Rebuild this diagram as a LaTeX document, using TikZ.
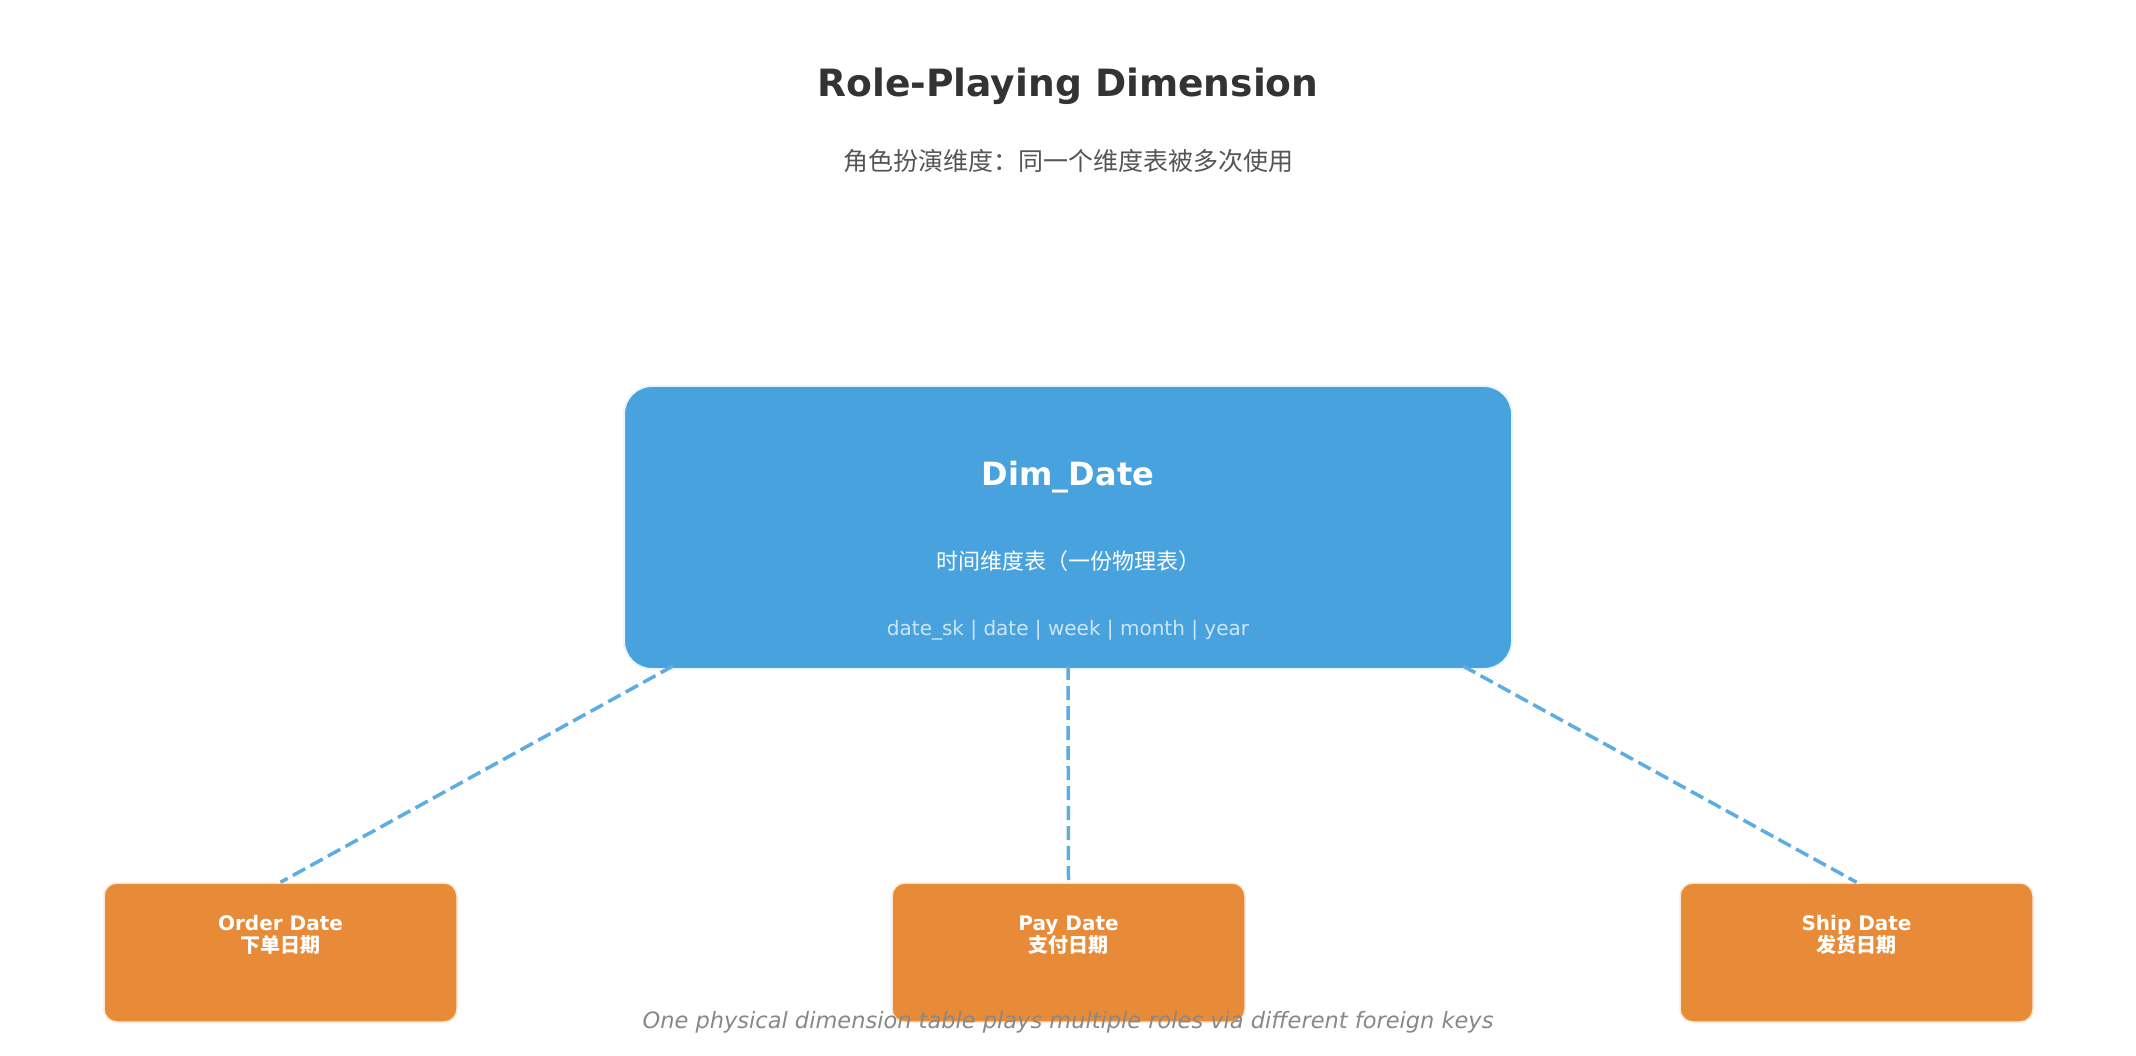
\documentclass[tikz,border=0pt]{standalone}
\usepackage{fontspec}
\setmainfont{DejaVu Sans}
\newfontfamily\cjk{Noto Sans CJK SC}
\usepackage{xcolor}
\definecolor{dimblue}{HTML}{48A2DE}
\definecolor{linkblue}{HTML}{5DADE2}
\definecolor{roleorange}{HTML}{E88B38}
\definecolor{titlegray}{HTML}{333333}
\definecolor{subgray}{HTML}{555555}
\definecolor{notegray}{HTML}{888888}
\definecolor{fieldblue}{HTML}{CDE6F7}

\begin{document}
\begin{tikzpicture}[x=1pt,y=-1pt,
	dimbox/.style={fill=dimblue,draw=dimblue!12,line width=2pt,rounded corners=28pt,minimum width=888pt,minimum height=283pt,inner sep=0pt},
	rolebox/.style={fill=roleorange,draw=roleorange!20,line width=1.5pt,rounded corners=13pt,minimum width=353pt,minimum height=139pt,inner sep=0pt},
	rolelabel/.style={text=white,font=\fontsize{20}{22}\selectfont\bfseries,align=center,inner sep=0pt},
	link/.style={linkblue,line width=3.5pt,dash pattern=on 14pt off 6pt}]
	\useasboundingbox (0,0) rectangle (2136,1056);
	%
	\node[text=titlegray,font=\fontsize{37.6}{44}\selectfont\bfseries] (title) at (1068,86.5) {Role-Playing Dimension};
	\node[text=subgray,font=\fontsize{25}{29}\selectfont\cjk] (subtitle) at (1068,161) {角色扮演维度：同一个维度表被多次使用};
	%
	\node[dimbox] (dim) at (1068,527.5) {};
	\node[text=white,font=\fontsize{32}{38}\selectfont\bfseries] (dimname) at (1068,477.5) {Dim\_Date};
	\node[text=white,font=\fontsize{22}{26}\selectfont\cjk] (dimdesc) at (1068,561) {时间维度表（一份物理表）};
	\node[text=fieldblue,font=\fontsize{20}{24}\selectfont] (dimfields) at (1068,630) {date\_sk | date | week | month | year};
	%
	\node[rolebox] (order) at (280.5,952.5) {};
	\node[rolebox] (pay) at (1068.5,952.5) {};
	\node[rolebox] (ship) at (1856.5,952.5) {};
	\node[rolelabel] (orderlabel) at (280.5,935) {Order Date\\{\cjk\bfseries 下单日期}};
	\node[rolelabel] (paylabel) at (1068.5,935) {Pay Date\\{\cjk\bfseries 支付日期}};
	\node[rolelabel] (shiplabel) at (1856.5,935) {Ship Date\\{\cjk\bfseries 发货日期}};
	%
	\draw[link] ([xshift=50pt,yshift=4pt]dim.south west) -- (order.north);
	\draw[link] ([yshift=4pt]dim.south) -- (pay.north);
	\draw[link] ([xshift=-50pt,yshift=4pt]dim.south east) -- (ship.north);
	%
	\node[text=notegray,font=\fontsize{22.5}{27}\selectfont\itshape] (note) at (1068,1022) {One physical dimension table plays multiple roles via different foreign keys};
\end{tikzpicture}
\end{document}
